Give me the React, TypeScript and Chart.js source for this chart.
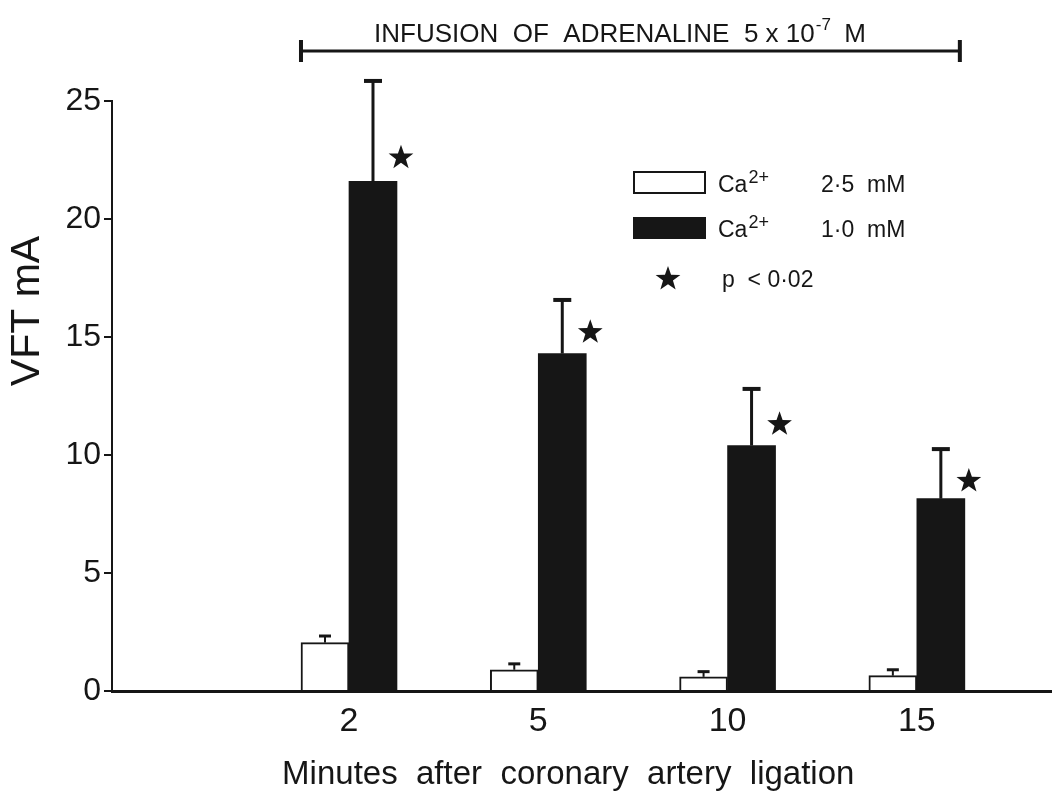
import React, { useEffect, useRef } from "react";
import { Chart, registerables } from "chart.js";

Chart.register(...registerables);

// ---- data ----
const categories = ["2", "5", "10", "15"];
const yTicks = [0, 5, 10, 15, 20, 25];
const ca25Values = [2.05, 0.9, 0.6, 0.65];
const ca25Errors = [0.28, 0.25, 0.22, 0.25];
const ca10Values = [21.6, 14.3, 10.4, 8.15];
const ca10Errors = [4.25, 2.27, 2.4, 2.1];
const starValues = [22.6, 15.2, 11.3, 8.9];
const yTitle = "VFT mA";
const xTitle = "Minutes  after  coronary  artery  ligation   ";

const INK = "#161616";
const FAMILY = "'Liberation Sans', Arial, Helvetica, sans-serif";

function drawStar(ctx: CanvasRenderingContext2D, cx: number, cy: number, R: number, r: number) {
  ctx.beginPath();
  for (let k = 0; k < 10; k++) {
    const rad = k % 2 === 0 ? R : r;
    const a = -Math.PI / 2 + (k * Math.PI) / 5;
    const px = cx + rad * Math.cos(a);
    const py = cy + rad * Math.sin(a);
    if (k === 0) ctx.moveTo(px, py);
    else ctx.lineTo(px, py);
  }
  ctx.closePath();
  ctx.fill();
}

const annotPlugin = {
  id: "annot",
  afterDatasetsDraw(chart: any) {
    const ctx: CanvasRenderingContext2D = chart.ctx;
    const y = chart.scales.y;
    const m0 = chart.getDatasetMeta(0).data;
    const m1 = chart.getDatasetMeta(1).data;
    ctx.save();
    ctx.strokeStyle = INK;
    ctx.fillStyle = INK;
    ctx.lineCap = "butt";
    // error bars white
    m0.forEach((bar: any, i: number) => {
      const top = y.getPixelForValue(ca25Values[i]);
      const e = y.getPixelForValue(ca25Values[i] + ca25Errors[i]);
      ctx.lineWidth = 2;
      ctx.beginPath();
      ctx.moveTo(bar.x, top);
      ctx.lineTo(bar.x, e);
      ctx.stroke();
      ctx.lineWidth = 3;
      ctx.beginPath();
      ctx.moveTo(bar.x - 6, e);
      ctx.lineTo(bar.x + 6, e);
      ctx.stroke();
    });
    // error bars black
    m1.forEach((bar: any, i: number) => {
      const top = y.getPixelForValue(ca10Values[i]);
      const e = y.getPixelForValue(ca10Values[i] + ca10Errors[i]);
      ctx.lineWidth = 3;
      ctx.beginPath();
      ctx.moveTo(bar.x, top);
      ctx.lineTo(bar.x, e);
      ctx.stroke();
      ctx.lineWidth = 4;
      ctx.beginPath();
      ctx.moveTo(bar.x - 9, e);
      ctx.lineTo(bar.x + 9, e);
      ctx.stroke();
      // significance star
      drawStar(ctx, bar.x + 28, y.getPixelForValue(starValues[i]), 13, 5.2);
    });
    ctx.restore();
  },
  afterDraw(chart: any) {
    const ctx: CanvasRenderingContext2D = chart.ctx;
    const m0 = chart.getDatasetMeta(0).data;
    const m1 = chart.getDatasetMeta(1).data;
    const area = chart.chartArea;
    ctx.save();
    ctx.strokeStyle = INK;
    ctx.fillStyle = INK;

    // y axis title (rotated)
    ctx.save();
    ctx.translate(28, (area.top + area.bottom) / 2 - 85);
    ctx.rotate(-Math.PI / 2);
    ctx.font = `41px ${FAMILY}`;
    ctx.textAlign = "center";
    ctx.textBaseline = "middle";
    ctx.fillText(yTitle, 0, 0);
    ctx.restore();

    // infusion bar
    const x0 = m0[0].x - m0[0].width / 2;
    const last = m1[m1.length - 1];
    const x1 = last.x + last.width / 2 - 5;
    const ly = 51;
    ctx.lineWidth = 3;
    ctx.beginPath();
    ctx.moveTo(x0, ly);
    ctx.lineTo(x1, ly);
    ctx.stroke();
    ctx.lineWidth = 4;
    ctx.beginPath();
    ctx.moveTo(x0, ly - 11);
    ctx.lineTo(x0, ly + 11);
    ctx.moveTo(x1, ly - 11);
    ctx.lineTo(x1, ly + 11);
    ctx.stroke();

    // infusion text
    const big = `26px ${FAMILY}`;
    const small = `17px ${FAMILY}`;
    const p1 = "INFUSION  OF  ADRENALINE  5 x 10";
    const p2 = "-7";
    const p3 = "  M";
    ctx.font = big;
    const w1 = ctx.measureText(p1).width;
    const w3 = ctx.measureText(p3).width;
    ctx.font = small;
    const w2 = ctx.measureText(p2).width;
    const total = w1 + w2 + w3;
    let tx = 620 - total / 2;
    ctx.textBaseline = "alphabetic";
    ctx.textAlign = "left";
    ctx.font = big;
    ctx.fillText(p1, tx, 42);
    tx += w1;
    ctx.font = small;
    ctx.fillText(p2, tx + 1, 30);
    tx += w2;
    ctx.font = big;
    ctx.fillText(p3, tx, 42);

    // legend
    ctx.lineWidth = 2;
    ctx.fillStyle = "#ffffff";
    ctx.fillRect(634, 172, 71, 21);
    ctx.strokeRect(634, 172, 71, 21);
    ctx.fillStyle = INK;
    ctx.fillRect(633, 217, 73, 22);

    const rows = [
      { base: 192, conc: "2\u00b75  mM" },
      { base: 237, conc: "1\u00b70  mM" },
    ];
    rows.forEach((r) => {
      ctx.font = `23px ${FAMILY}`;
      ctx.fillText("Ca", 718, r.base);
      const cw = ctx.measureText("Ca").width;
      ctx.font = `18px ${FAMILY}`;
      ctx.fillText("2+", 718 + cw + 1, r.base - 9);
      ctx.font = `23px ${FAMILY}`;
      ctx.fillText(r.conc, 821, r.base);
    });
    drawStar(ctx, 668, 279, 13, 5.2);
    ctx.font = `23px ${FAMILY}`;
    ctx.fillText("p  < 0\u00b702", 722, 287);
    ctx.restore();
  },
};

export default function App() {
  const ref = useRef<HTMLCanvasElement | null>(null);
  useEffect(() => {
    const canvas = ref.current;
    if (!canvas) return;
    const chart = new Chart(canvas, {
      type: "bar",
      data: {
        datasets: [
          {
            label: "Ca2+ 2.5 mM",
            data: ca25Values.map((v, i) => ({ x: i, y: v })),
            backgroundColor: "#ffffff",
            borderColor: INK,
            borderWidth: 2,
            barThickness: 48,
          },
          {
            label: "Ca2+ 1.0 mM",
            data: ca10Values.map((v, i) => ({ x: i, y: v })),
            backgroundColor: INK,
            borderColor: INK,
            borderWidth: 0,
            barThickness: 48,
          },
        ],
      } as any,
      options: {
        responsive: false,
        animation: false,
        layout: { padding: { top: 101, right: 0, left: 0, bottom: 0 } },
        plugins: {
          legend: { display: false },
          tooltip: { enabled: false },
          title: { display: false },
        },
        scales: {
          x: {
            type: "linear",
            min: -1.252,
            max: 3.714,
            offset: false,
            afterBuildTicks: (s: any) => {
              s.ticks = categories.map((_, i) => ({ value: i }));
            },
            afterFit: (s: any) => {
              s.height = 104;
            },
            grid: { display: false, drawTicks: false },
            border: { display: true, color: INK, width: 3 },
            ticks: {
              autoSkip: false,
              maxRotation: 0,
              minRotation: 0,
              padding: 10,
              color: INK,
              font: { family: FAMILY, size: 34 },
              callback: (v: any) => categories[v] ?? "",
            },
            title: {
              display: true,
              text: xTitle,
              color: INK,
              font: { family: FAMILY, size: 33 },
              padding: { top: 0, bottom: 0 },
            },
          },
          y: {
            min: 0,
            max: 25,
            afterBuildTicks: (s: any) => {
              s.ticks = yTicks.map((v) => ({ value: v }));
            },
            afterFit: (s: any) => {
              s.width = 112;
            },
            grid: {
              display: true,
              drawOnChartArea: false,
              drawTicks: true,
              tickLength: 8,
              color: INK,
              lineWidth: 2,
            },
            border: { display: true, color: INK, width: 2 },
            ticks: { padding: 3, color: INK, font: { family: FAMILY, size: 32 } },
            title: { display: false },
          },
        },
      } as any,
      plugins: [annotPlugin],
    });
    return () => chart.destroy();
  }, []);

  return (
    <div style={{ position: "absolute", left: 0, top: 0, width: 1052, height: 795, background: "#ffffff" }}>
      <canvas ref={ref} width={1052} height={795} style={{ display: "block" }} />
    </div>
  );
}
